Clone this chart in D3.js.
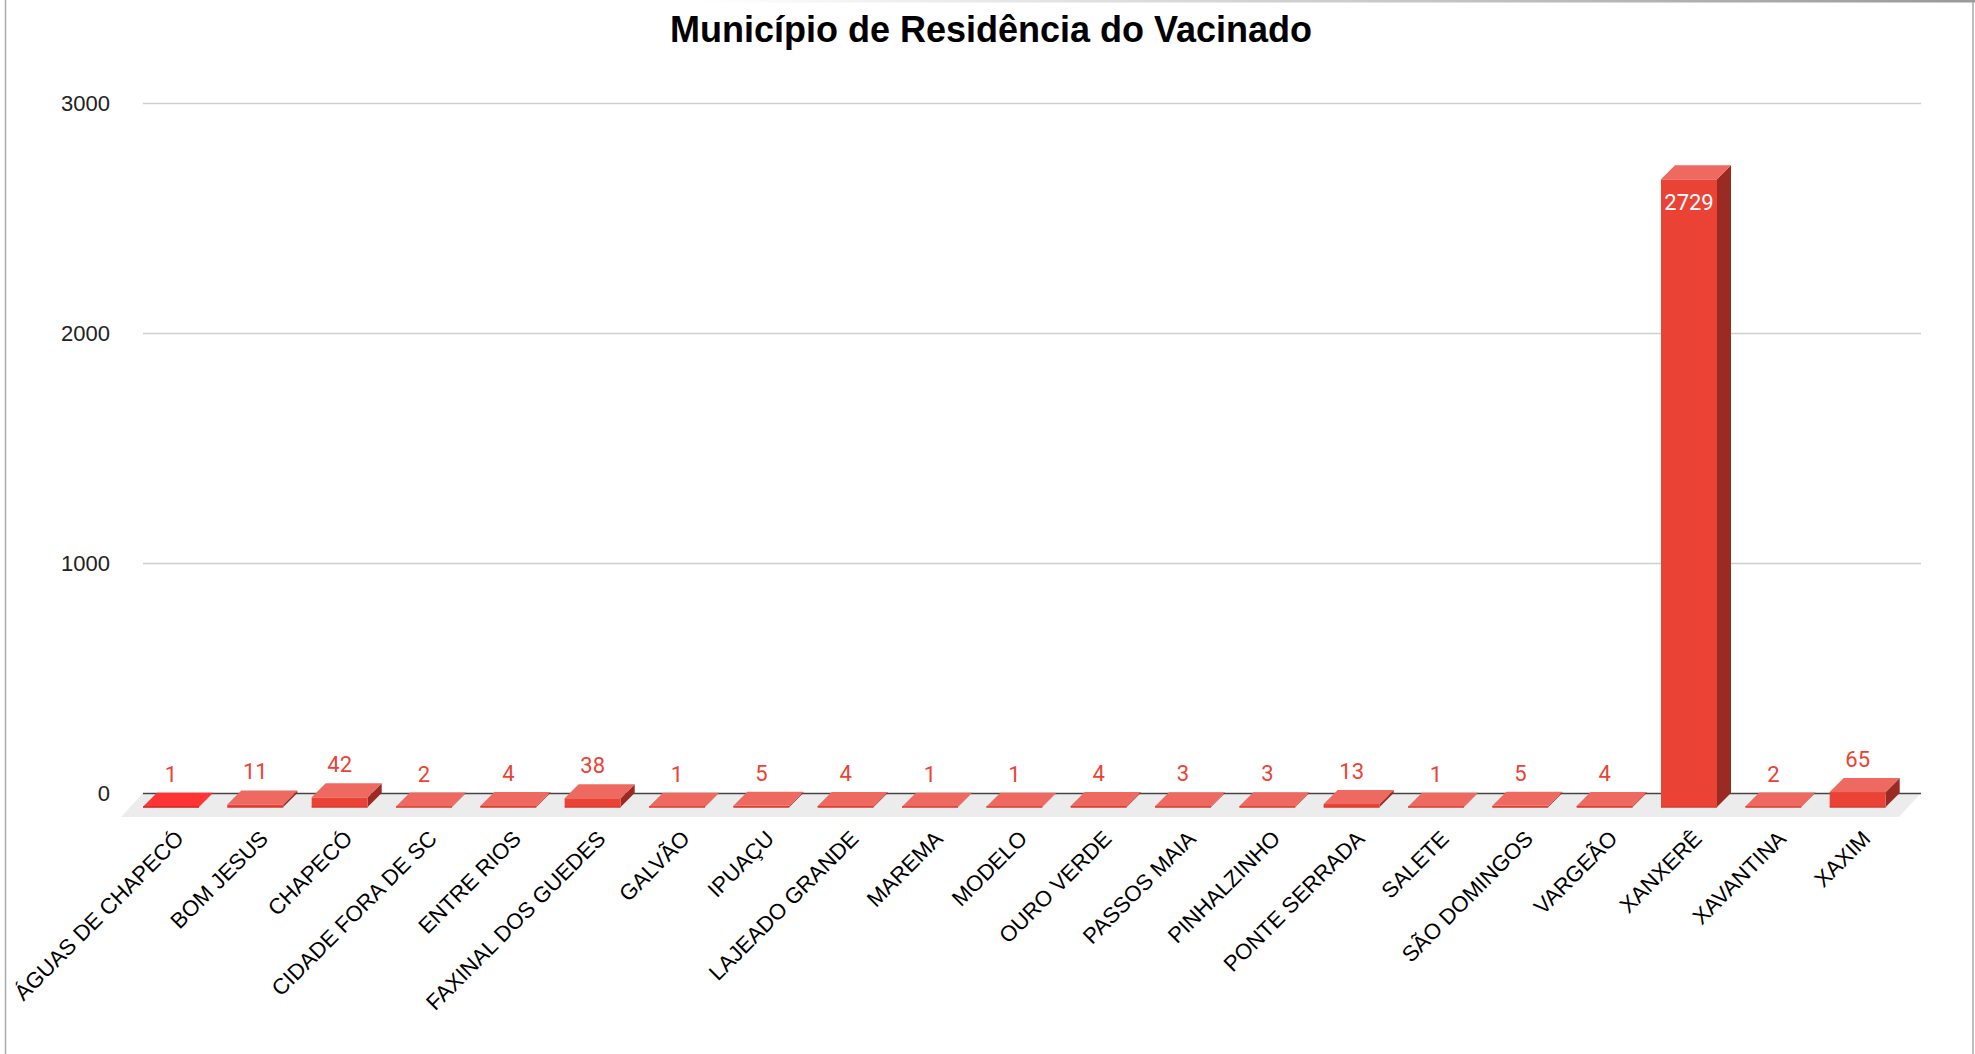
<!DOCTYPE html>
<html>
<head>
<meta charset="utf-8">
<script src="https://cdn.jsdelivr.net/npm/d3@7"></script>
<style>
  html, body { margin: 0; padding: 0; background: #fff; }
  svg { display: block; }
</style>
</head>
<body>
<script>
const categories = ["ÁGUAS DE CHAPECÓ","BOM JESUS","CHAPECÓ","CIDADE FORA DE SC","ENTRE RIOS","FAXINAL DOS GUEDES","GALVÃO","IPUAÇU","LAJEADO GRANDE","MAREMA","MODELO","OURO VERDE","PASSOS MAIA","PINHALZINHO","PONTE SERRADA","SALETE","SÃO DOMINGOS","VARGEÃO","XANXERÊ","XAVANTINA","XAXIM"];
const values = [1,11,42,2,4,38,1,5,4,1,1,4,3,3,13,1,5,4,2729,2,65];
const yTicks = [0,1000,2000,3000];
const title = "Município de Residência do Vacinado";
const highlighted = "ÁGUAS DE CHAPECÓ";

const W = 1975, H = 1054;
const depth = 14;
const barW = 56;

const svg = d3.select("body").append("svg").attr("width", W).attr("height", H);

// frame
const defs = svg.append("defs");
const grad = defs.append("linearGradient").attr("id","topg").attr("x1","0").attr("x2","1");
grad.append("stop").attr("offset","0").attr("stop-color","#fff");
grad.append("stop").attr("offset","1").attr("stop-color","#999");
svg.append("line").attr("x1",5.5).attr("x2",5.5).attr("y1",0).attr("y2",H).attr("stroke","#aaa").attr("stroke-width",1.5);
svg.append("line").attr("x1",1973).attr("x2",1973).attr("y1",0).attr("y2",H).attr("stroke","#aaa").attr("stroke-width",1.5);
svg.append("rect").attr("x",700).attr("y",0).attr("width",1275).attr("height",2.5).attr("fill","url(#topg)");

const x = d3.scaleBand().domain(categories).range([143, 1914]);
const y = d3.scaleLinear().domain([0, 3000]).range([793, 103]);
const gridRight = 1921;

// title
svg.append("text").attr("x", 991).attr("y", 42).attr("text-anchor","middle")
  .attr("font-family","'Liberation Sans', Arial, sans-serif").attr("font-weight","bold")
  .attr("font-size", 36).attr("fill","#000").text(title);

// floor
const left = x.range()[0];
svg.append("polygon")
  .attr("points", [[left, y(0)],[gridRight, y(0)],[gridRight-22, y(0)+24],[left-22, y(0)+24]].map(p=>p.join(",")).join(" "))
  .attr("fill","#ececec");

// y axis + grid
const yAxis = d3.axisLeft(y).tickValues(yTicks).tickSize(-(gridRight-left)).tickPadding(33).tickFormat(d3.format("d"));
const gy = svg.append("g").attr("transform", `translate(${left},0)`).call(yAxis);
gy.select(".domain").remove();
gy.selectAll(".tick line").attr("stroke", d => d === 0 ? "#444" : "#cfcfcf").attr("stroke-width", 1.5);
gy.selectAll(".tick text").attr("font-family","'Liberation Sans', Arial, sans-serif").attr("font-size",22).attr("fill","#222");

// bars
const data = categories.map((c,i)=>({c, v: values[i]}));
const gb = svg.append("g");
const fy0 = y(0) + depth;
data.forEach(d => {
  const x0 = x(d.c);
  const yt = y(d.v) + depth;
  const hl = d.c === highlighted;
  const front = hl ? "#ff3030" : "#ea4335";
  const top = hl ? "#ff3535" : "#ee6a60";
  const side = hl ? "#b52222" : "#992b24";
  gb.append("polygon").attr("points", [[x0+barW, yt],[x0+barW+depth, yt-depth],[x0+barW+depth, y(0)],[x0+barW, fy0]].map(p=>p.join(",")).join(" ")).attr("fill", side);
  gb.append("rect").attr("x", x0).attr("y", yt).attr("width", barW).attr("height", Math.max(0, fy0 - yt)).attr("fill", front);
  gb.append("polygon").attr("points", [[x0, yt],[x0+barW, yt],[x0+barW+depth, yt-depth],[x0+depth, yt-depth]].map(p=>p.join(",")).join(" ")).attr("fill", top);
  gb.append("line").attr("x1", x0).attr("x2", x0+barW).attr("y1", fy0).attr("y2", fy0).attr("stroke", hl ? "#d01c1c" : "#d9392f").attr("stroke-width", 1.5);
  if (d.v > 1000) {
    gb.append("text").attr("x", x0 + barW/2).attr("y", yt + 31).attr("text-anchor","middle")
      .attr("font-family","Roboto, sans-serif").attr("font-size",22).attr("fill","#fff").text(d.v);
  } else {
    gb.append("text").attr("x", x0 + barW/2).attr("y", y(d.v) - 11).attr("text-anchor","middle")
      .attr("font-family","Roboto, sans-serif").attr("font-size",22).attr("fill","#ea4335").text(d.v);
  }
});

// x labels
const gx = svg.append("g");
categories.forEach(c => {
  const cx = x(c) + x.bandwidth()/2;
  const cy = 840;
  gx.append("text").attr("transform", `translate(${cx},${cy}) rotate(-45)`).attr("text-anchor","end")
    .attr("font-family","'Liberation Sans', Arial, sans-serif").attr("font-size",22).attr("fill","#000").text(c);
});
</script>
</body>
</html>
